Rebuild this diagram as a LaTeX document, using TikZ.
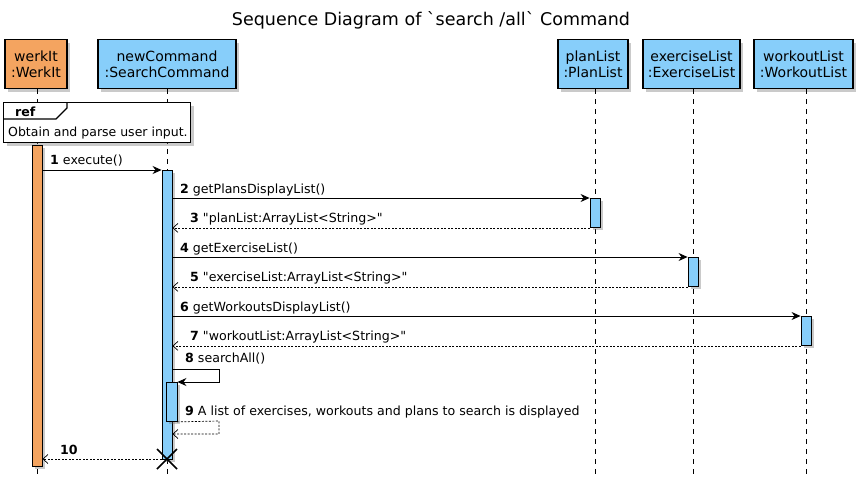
\documentclass[tikz,border=0pt]{standalone}
\usepackage{fontspec}
\setmainfont{DejaVu Sans}[Ligatures=TeXOff]
\usetikzlibrary{arrows.meta,shadows,calc}
\definecolor{orng}{HTML}{F4A460}
\definecolor{lblue}{HTML}{87CEFA}
\begin{document}
\begin{tikzpicture}[x=1pt,y=-1pt,
  font=\fontsize{12.6}{14}\selectfont,
  shad/.style={drop shadow={shadow xshift=3pt,shadow yshift=-3pt,opacity=0.35,fill=black!60}},
  part/.style={draw,line width=1.1pt,align=center,minimum height=49pt,inner sep=2pt,shad,font=\fontsize{14}{16}\selectfont},
  life/.style={line width=0.6pt,dash pattern=on 5pt off 5pt},
  actbox/.style={draw,line width=0.9pt,fill=lblue,minimum width=10pt,inner sep=0pt,shad},
  call/.style={line width=0.8pt,-{Stealth[length=9pt,width=8pt,inset=3pt]}},
  ret/.style={line width=0.7pt,dash pattern=on 2pt off 1.5pt,-{Straight Barb[length=5pt,width=9pt]}},
  lbl/.style={anchor=base west,inner sep=0pt}
]
\useasboundingbox (0,0) rectangle (866,482);
% title
\node[font=\fontsize{17.5}{20}\selectfont] (title) at (431,20) {Sequence Diagram of `search /all` Command};

% participants
\node[part,fill=orng,minimum width=62pt] (werk) at (36,64) {werkIt\\:WerkIt};
\node[part,fill=lblue,minimum width=138pt] (cmd) at (167,64) {newCommand\\:SearchCommand};
\node[part,fill=lblue,minimum width=70pt] (plan) at (593,64) {planList\\:PlanList};
\node[part,fill=lblue,minimum width=97pt] (ex) at (691.5,64) {exerciseList\\:ExerciseList};
\node[part,fill=lblue,minimum width=99pt] (wo) at (803.5,64) {workoutList\\:WorkoutList};

% lifelines
\coordinate (wEnd) at (37,478);
\coordinate (cEnd) at (167,478);
\coordinate (pEnd) at (595,478);
\coordinate (eEnd) at (693,478);
\coordinate (oEnd) at (806,478);
\draw[life] (werk.south -| wEnd) -- (wEnd);
\draw[life] (cmd.south -| cEnd) -- (cEnd);
\draw[life] (plan.south -| pEnd) -- (pEnd);
\draw[life] (ex.south -| eEnd) -- (eEnd);
\draw[life] (wo.south -| oEnd) -- (oEnd);

% ref frame
\node[draw,line width=1.1pt,fill=white,shad,minimum width=187pt,minimum height=40pt,anchor=north west,inner sep=0pt] (ref) at (3,102) {};
\draw[line width=1.1pt] (3,119) -- (56,119) -- (67,108) -- (67,102);
\node[font=\bfseries\fontsize{12.6}{14}\selectfont,anchor=base west,inner sep=0pt] (reft) at (15,116) {ref};
\node[anchor=base west,inner sep=0pt,font=\fontsize{12.5}{14}\selectfont] (refb) at (8,136) {Obtain and parse user input.};

% activations
\node[actbox,fill=orng,minimum height=321pt,anchor=north] (aw) at (37,145) {};
\node[actbox,minimum height=289pt,anchor=north] (ac) at (167,170) {};
\node[actbox,minimum height=29pt,anchor=north] (ap) at (595,198) {};
\node[actbox,minimum height=29pt,anchor=north] (ae) at (693,257) {};
\node[actbox,minimum height=29pt,anchor=north] (ao) at (806,316) {};
\node[actbox,minimum height=39pt,minimum width=11pt,anchor=north] (ai) at (171.5,382) {};

% messages
\draw[call] (aw.east |- ac.north) -- (ac.north west);
\node[lbl] (m1) at (50,164) {\textbf{1} execute()};

\draw[call] (ac.east |- ap.north) -- (ap.north west);
\node[lbl] (m2) at (180,193) {\textbf{2} getPlansDisplayList()};
\draw[ret] (ap.south west) -- (ac.east |- ap.south);
\node[lbl] (m3) at (190,222) {\textbf{3} "planList:ArrayList<String>"};

\draw[call] (ac.east |- ae.north) -- (ae.north west);
\node[lbl] (m4) at (180,252) {\textbf{4} getExerciseList()};
\draw[ret] (ae.south west) -- (ac.east |- ae.south);
\node[lbl] (m5) at (190,281) {\textbf{5} "exerciseList:ArrayList<String>"};

\draw[call] (ac.east |- ao.north) -- (ao.north west);
\node[lbl] (m6) at (180,311) {\textbf{6} getWorkoutsDisplayList()};
\draw[ret] (ao.south west) -- (ac.east |- ao.south);
\node[lbl] (m7) at (190,340) {\textbf{7} "workoutList:ArrayList<String>"};

\draw[call] (ac.east |- 0,369) -- (219,369) -- (219,382) -- (ai.north east);
\node[lbl] (m8) at (185,362) {\textbf{8} searchAll()};

\draw[ret] (ai.south east) -- (219,421) -- (219,434) -- (ac.east |- 0,434);
\node[lbl] (m9) at (185,415) {\textbf{9} A list of exercises, workouts and plans to search is displayed};

\coordinate (xc) at (167,459);
\draw[ret] (ac.west |- xc) -- (aw.east |- xc);
\node[lbl,font=\bfseries\fontsize{12.6}{14}\selectfont] (m10) at (60,454) {10};

% destroy
\draw[line width=1.6pt] ($(xc)+(-10,-10)$) -- ($(xc)+(10,10)$) ($(xc)+(-10,10)$) -- ($(xc)+(10,-10)$);
\end{tikzpicture}
\end{document}
